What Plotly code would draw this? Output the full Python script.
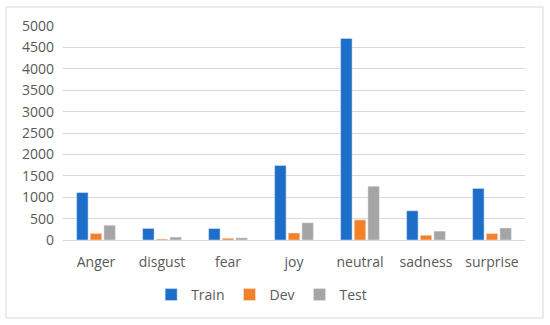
import plotly.graph_objects as go

categories = ["Anger", "disgust", "fear", "joy", "neutral", "sadness", "surprise"]
train = [1109, 271, 268, 1743, 4710, 683, 1205]
dev = [153, 22, 40, 163, 470, 111, 150]
test = [345, 68, 50, 402, 1256, 208, 281]
y_ticks = [0, 500, 1000, 1500, 2000, 2500, 3000, 3500, 4000, 4500, 5000]

W, H = 550, 325
ml, mr, mt, mb = 63, 25, 26, 85
pw, ph = W - ml - mr, H - mt - mb

fig = go.Figure()
fig.add_bar(name="Train", x=categories, y=train, marker_color="#1C6EC9")
fig.add_bar(name="Dev", x=categories, y=dev, marker_color="#F58025")
fig.add_bar(name="Test", x=categories, y=test, marker_color="#A5A5A5")

font = "Open Sans, Liberation Sans, sans-serif"
fig.update_layout(
    width=W, height=H,
    margin=dict(l=ml, r=mr, t=mt, b=mb),
    paper_bgcolor="white", plot_bgcolor="white",
    barmode="group", bargap=0.38, bargroupgap=0.16,
    font=dict(family=font, size=14, color="#595959"),
    showlegend=True,
    legend=dict(orientation="h", x=0.43, xanchor="center", y=-0.257, yanchor="middle",
                font=dict(size=14, color="#595959"), itemwidth=30, traceorder="normal"),
    xaxis=dict(showgrid=False, showline=True, linecolor="#D9D9D9", linewidth=1,
               ticks="", tickfont=dict(size=14), ticklabelstandoff=9),
    yaxis=dict(range=[0, 5000], tickvals=y_ticks, showgrid=True, gridcolor="#D9D9D9",
               gridwidth=1, zeroline=False, showline=False, ticks="",
               tickfont=dict(size=14), ticklabelstandoff=8),
)

# outer chart border
fig.add_shape(type="rect", xref="paper", yref="paper",
              x0=(6 - ml) / pw, x1=(543 - ml) / pw,
              y0=(mt + ph - 318) / ph, y1=(mt + ph - 7) / ph,
              line=dict(color="#D9D9D9", width=1), fillcolor="rgba(0,0,0,0)", layer="below")

fig.write_html("out.html", config={"displayModeBar": False},
               post_script="document.body.style.margin='0';")
